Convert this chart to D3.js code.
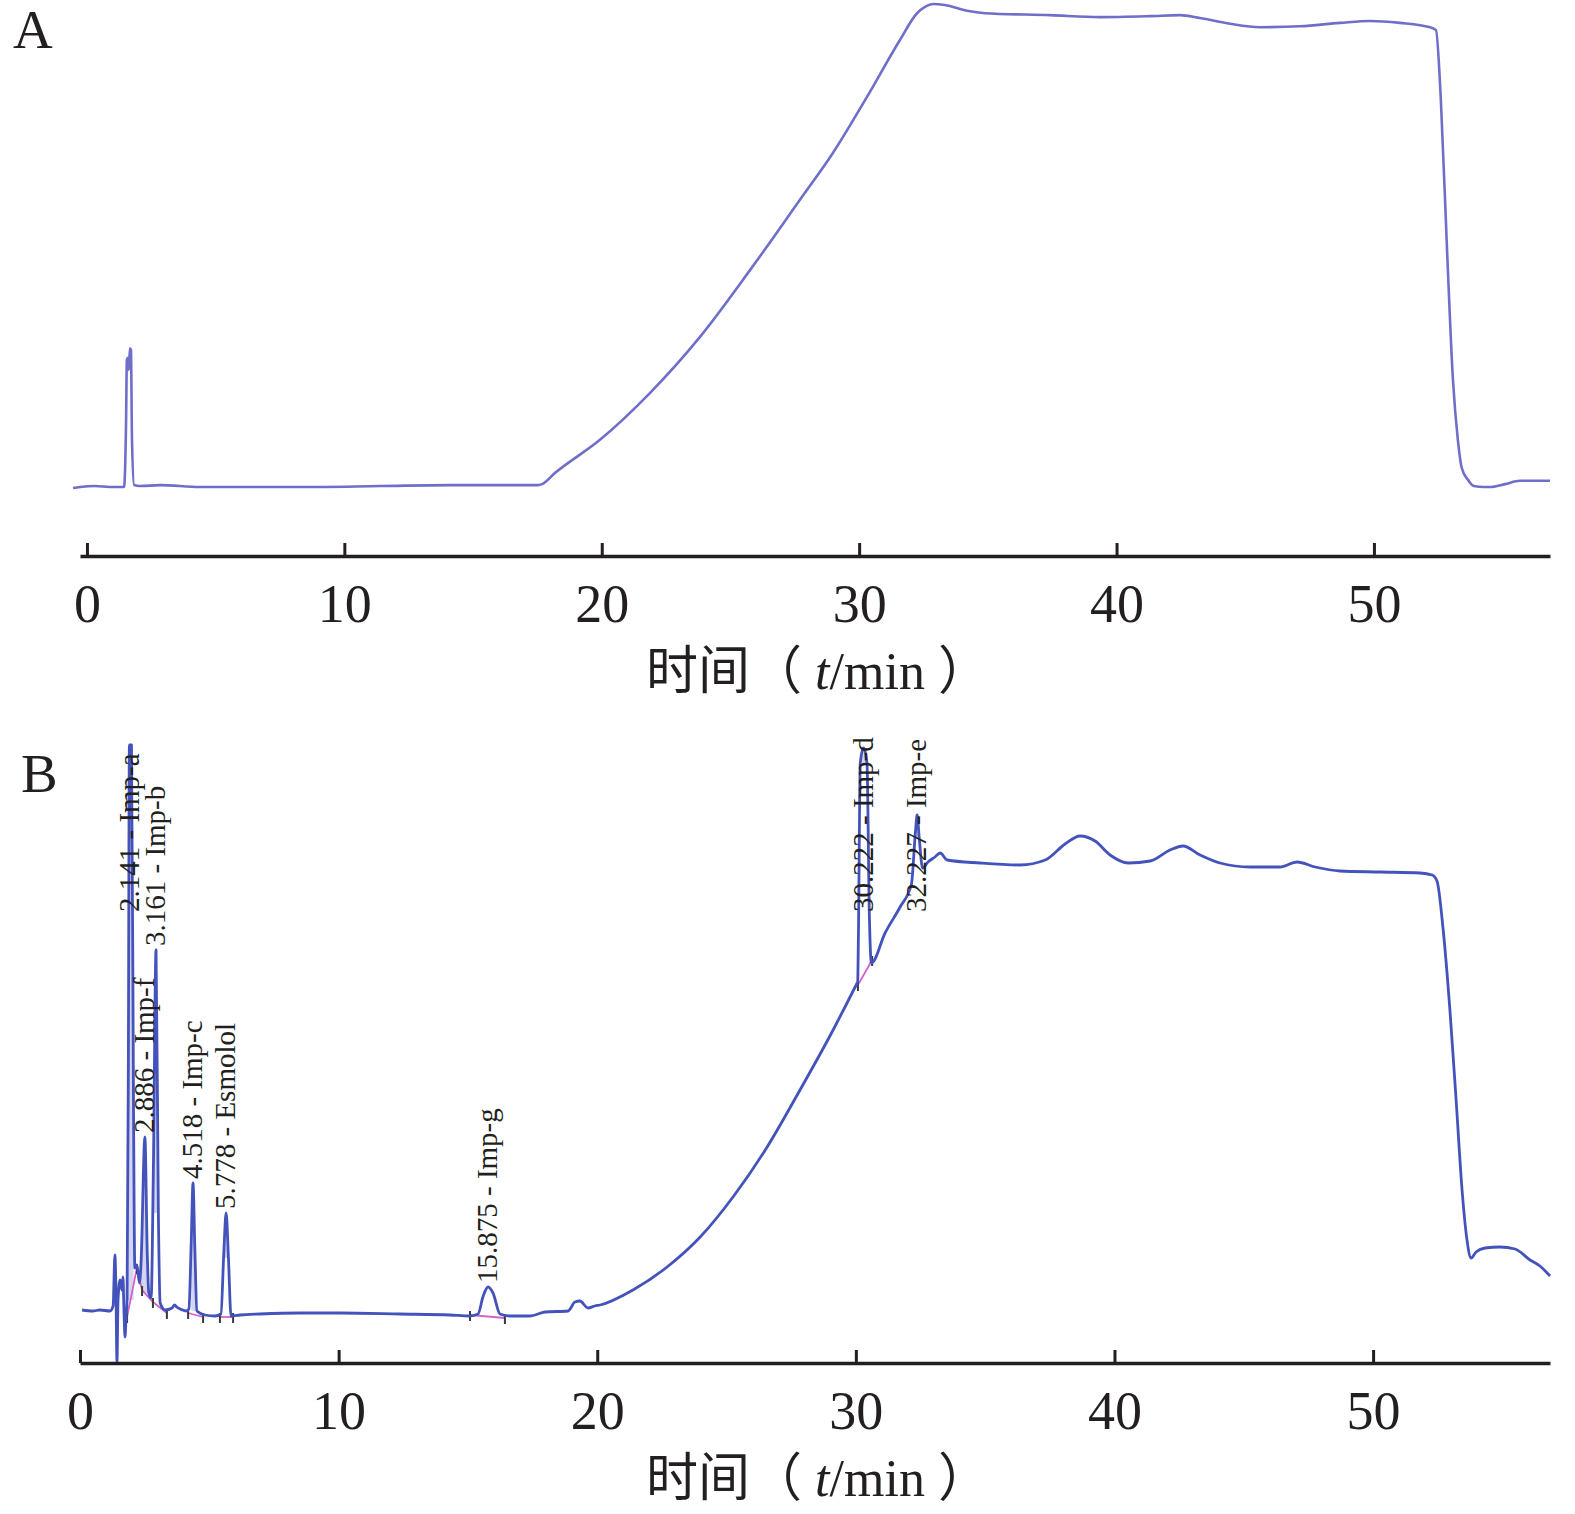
<!DOCTYPE html>
<html>
<head>
<meta charset="utf-8">
<script src="https://cdn.jsdelivr.net/npm/d3@7/dist/d3.min.js"></script>
<style>
  body { margin: 0; background: #fff; }
  text { font-family: "Liberation Serif", "Times New Roman", "Noto Sans CJK SC", serif; fill: #231f20; }
</style>
</head>
<body>
<div id="chart"></div>
<script>
// chromatogram A (blank run): time in min, detector response
var timeA = [-0.54, -0.27, 0.31, 0.89, 1.44, 1.52, 1.55, 1.59, 1.63, 1.67, 1.71, 1.75, 1.83, 2.06, 2.84, 4.39,
  6.33, 8.28, 11.38, 14.10, 17.52, 17.68, 18.18, 19.93, 21.87, 23.81, 25.76, 27.70, 28.98, 30.30, 31.58,
  32.25, 32.56, 32.87, 33.33, 34.19, 34.89, 37.41, 39.35, 41.30, 42.46, 43.24, 44.41, 45.57, 47.13, 48.68,
  49.84, 51.01, 52.18, 52.41, 52.60, 52.84, 53.07, 53.26, 53.41, 53.65, 53.88, 54.27, 54.50, 55.09, 55.67, 56.84]
var signalA = [0, 2, 4, 2, 2, 139, 266, 270, 245, 290, 286, 100, 6, 4, 6, 2,
  2, 2, 4, 6, 6, 8, 31, 100, 197, 313, 452, 598, 695, 811, 929,
  985, 998, 1004, 1002, 990, 985, 981, 977, 979, 981, 975, 963, 956, 958, 965,
  969, 965, 956, 950, 805, 494, 224, 100, 42, 17, 4, 2, 2, 8, 15, 15]

// chromatogram B (sample run)
var timeB = [0.08, 0.50, 0.77, 1.16, 1.28, 1.35, 1.39, 1.43, 1.47, 1.55, 1.62, 1.66, 1.70, 1.74, 1.78, 1.82,
  1.87, 1.91, 1.99, 2.07, 2.12, 2.20, 2.30, 2.36, 2.51, 2.60, 2.66, 2.75, 2.84, 2.94, 3.03, 3.10, 3.29,
  3.56, 3.66, 3.74, 3.87, 4.10, 4.21, 4.30, 4.37, 4.44, 4.52, 4.83, 5.22, 5.45, 5.56, 5.65, 5.74, 5.84,
  6.19, 6.96, 8.51, 10.05, 12.37, 14.31, 15.08, 15.39, 15.59, 15.78, 15.97, 16.24, 16.63, 17.40, 17.98,
  18.87, 19.14, 19.33, 19.64, 19.91, 20.11, 21.38, 22.70, 23.98, 25.25, 26.57, 27.84, 29.12, 29.60, 30.05,
  30.07, 30.10, 30.17, 30.30, 30.43, 30.52, 30.60, 31.13, 31.71, 32.15, 32.30, 32.37, 32.45, 32.58, 32.79,
  33.06, 33.26, 33.53, 34.80, 36.35, 37.32, 38.09, 38.67, 39.25, 39.83, 40.53, 41.38, 42.15, 42.65, 43.31,
  44.08, 45.24, 46.40, 47.06, 47.76, 48.72, 50.27, 51.82, 52.28, 52.47, 52.71, 52.97, 53.21, 53.44, 53.63,
  53.79, 53.98, 54.33, 54.91, 55.49, 56.07, 56.45, 56.84]
var signalB = [6, 4, 6, 4, 14, 116, 46, -98, 26, 66, 46, 72, 6, -48, -10, 26,
  500, 1136, 1136, 400, 90, 96, 60, 100, 352, 120, 40, 30, 300, 726, 200, 20, 6,
  10, 16, 12, 8, 4, 8, 140, 260, 130, 4, -4, -6, -2, 120, 200, 110, -6,
  -4, -2, 0, 0, -2, -4, -6, -2, 34, 52, 40, -2, -6, -6, 2,
  4, 22, 24, 10, 14, 16, 46, 92, 152, 232, 332, 446, 566, 614, 660,
  662, 760, 1100, 1130, 1100, 800, 700, 760, 812, 858, 960, 996, 950, 890, 902,
  912, 920, 906, 900, 896, 906, 938, 954, 944, 916, 900, 904, 926, 934, 916,
  900, 892, 892, 902, 892, 884, 882, 880, 876, 864, 766, 606, 426, 246, 146,
  110, 122, 130, 132, 128, 106, 94, 74]

// identified peaks: retention time label, name, apex time in the trace
var peakRT = ["2.141", "3.161", "2.886", "4.518", "5.778", "15.875", "30.222", "32.227"]
var peakNames = ["Imp-a", "Imp-b", "Imp-f", "Imp-c", "Esmolol", "Imp-g", "Imp-d", "Imp-e"]
var peakApex = [1.95, 2.94, 2.51, 4.37, 5.65, 15.78, 30.30, 32.37]

// integration baselines (time, response)
var baselineTimes = [[1.82, 2.20, 2.40, 2.82, 3.36], [4.18, 4.76], [5.41, 5.92], [15.08, 16.43], [30.08, 30.63]]
var baselineValues = [[-8, 90, 46, 22, 0], [0, -8], [-8, -8], [-4, -10], [656, 706]]

var xTicks = [0, 10, 20, 30, 40, 50]

var svgWidth = 1575
var svgHeight = 1514

var svg = d3.select("#chart")
  .append("svg")
  .attr("width", svgWidth)
  .attr("height", svgHeight)

// scales
var xA = d3.scaleLinear().domain([-0.27, 56.84]).range([80, 1550])
var yA = d3.scaleLinear().domain([0, 1000]).range([488, 6])
var xB = d3.scaleLinear().domain([0, 56.84]).range([80, 1550])
var yB = d3.scaleLinear().domain([0, 1000]).range([1313, 813])

function drawAxis(x, axisY) {
  var axis = d3.axisBottom(x)
    .tickValues(xTicks)
    .tickFormat(d3.format("d"))
    .tickSizeInner(-13)
    .tickSizeOuter(0)
    .tickPadding(28)

  var g = svg.append("g")
    .attr("transform", `translate(0, ${axisY})`)
    .call(axis)

  g.select(".domain").attr("stroke", "#231f20").attr("stroke-width", 3.5)
  g.selectAll(".tick line").attr("stroke", "#231f20").attr("stroke-width", 3)
  g.selectAll(".tick text")
    .attr("fill", "#231f20")
    .style("font-size", "54px")
    .style("font-family", '"Liberation Serif", "Times New Roman", serif')

  // axis title
  var title = svg.append("text")
    .attr("x", 818)
    .attr("y", axisY + 133)
    .attr("text-anchor", "middle")
    .style("font-size", "52px")
  title.append("tspan").text("时间（ ")
  title.append("tspan").style("font-style", "italic").text("t")
  title.append("tspan").text("/min ）")
}

function line(x, y) {
  return d3.line()
    .x(d => x(d[0]))
    .y(d => y(d[1]))
    .curve(d3.curveMonotoneX)
}

// panel A
svg.append("text")
  .attr("x", 13)
  .attr("y", 48)
  .style("font-size", "55px")
  .text("A")

svg.append("path")
  .datum(d3.zip(timeA, signalA))
  .attr("fill", "none")
  .attr("stroke", "#6f6fca")
  .attr("stroke-width", 2.6)
  .attr("stroke-linejoin", "round")
  .attr("d", line(xA, yA))

drawAxis(xA, 556)

// panel B
svg.append("text")
  .attr("x", 21)
  .attr("y", 792)
  .style("font-size", "55px")
  .text("B")

var traceB = d3.zip(timeB, signalB)

// pale fill inside the narrow peaks
peakApex.forEach(function(t) {
  var win = traceB.filter(d => Math.abs(d[0] - t) < 0.16)
  var base = d3.min(win, d => d[1])
  svg.append("path")
    .datum(win)
    .attr("fill", "#c9cbef")
    .attr("opacity", 0.8)
    .attr("d", d3.area()
      .x(d => xB(d[0]))
      .y0(yB(base))
      .y1(d => yB(d[1]))
      .curve(d3.curveMonotoneX))
})

// integration baselines
baselineTimes.forEach(function(ts, i) {
  var pts = d3.zip(ts, baselineValues[i])
  svg.append("path")
    .datum(pts)
    .attr("fill", "none")
    .attr("stroke", "#d463c8")
    .attr("stroke-width", 1.8)
    .attr("d", d3.line().x(d => xB(d[0])).y(d => yB(d[1])))

  svg.selectAll(null)
    .data(pts)
    .enter()
    .append("line")
    .attr("x1", d => xB(d[0]))
    .attr("x2", d => xB(d[0]))
    .attr("y1", d => yB(d[1]) - 4)
    .attr("y2", d => yB(d[1]) + 6)
    .attr("stroke", "#3a3a3a")
    .attr("stroke-width", 2)
})

svg.append("path")
  .datum(traceB)
  .attr("fill", "none")
  .attr("stroke", "#4453bb")
  .attr("stroke-width", 2.8)
  .attr("stroke-linejoin", "round")
  .attr("d", line(xB, yB))

// peak labels, rotated, sitting on the apex
peakApex.forEach(function(t, i) {
  var apex = d3.max(traceB.filter(d => Math.abs(d[0] - t) < 0.2), d => d[1])
  var px = xB(t) + 9
  var py = Math.max(yB(apex) - 4, 912)
  svg.append("text")
    .attr("transform", `translate(${px}, ${py}) rotate(-90)`)
    .style("font-size", "29px")
    .text(peakRT[i] + " - " + peakNames[i])
})

drawAxis(xB, 1363)
</script>
</body>
</html>
